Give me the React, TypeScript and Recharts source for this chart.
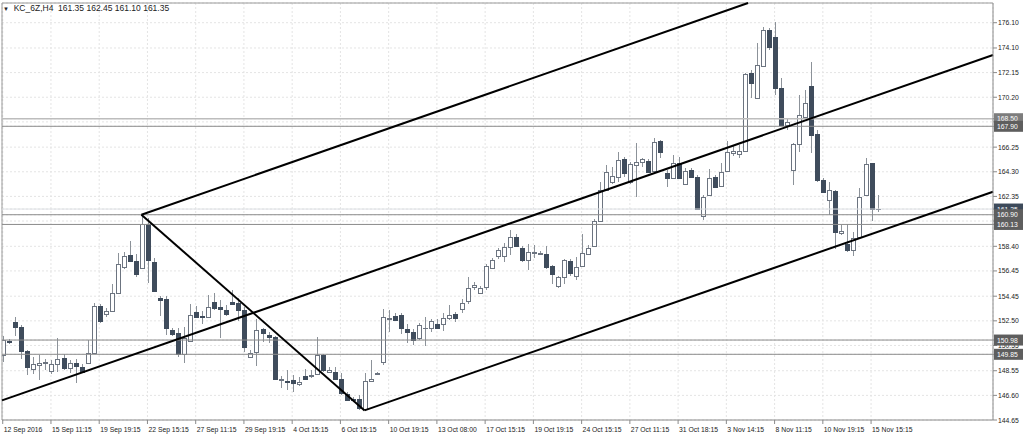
import React from 'react';
import { ComposedChart, Bar, XAxis, YAxis, CartesianGrid, ReferenceLine } from 'recharts';

// ---- OHLC values (KC_6Z, H4) ----
const opens = [
  149.77, 150.88, 152.38, 151.99, 150.09, 148.66, 148.98, 149.17, 148.50, 149.06,
  149.53, 148.74, 149.13, 148.82, 149.13, 149.93, 153.65, 153.02, 153.25, 154.68,
  156.74, 157.69, 157.22, 156.66, 160.15, 157.14, 154.28, 154.21, 151.75, 151.51,
  149.85, 150.88, 153.18, 152.86, 152.78, 153.97, 153.61, 153.33, 153.97, 153.89,
  153.33, 149.61, 150.01, 151.83, 151.35, 151.19, 147.83, 147.71, 147.79, 147.47,
  148.10, 148.10, 148.26, 149.77, 148.46, 148.42, 147.91, 146.72, 146.32, 146.32,
  145.49, 147.71, 148.26, 149.21, 152.66, 152.90, 152.94, 151.87, 151.59, 151.15,
  151.93, 151.96, 152.28, 152.28, 152.76, 153.02, 153.47, 154.05, 155.16, 154.68,
  155.16, 156.72, 157.61, 157.61, 158.37, 159.14, 158.25, 157.35, 157.85, 157.82,
  157.77, 156.86, 155.28, 155.95, 157.27, 156.07, 156.82, 157.82, 158.41, 160.44,
  162.84, 163.50, 163.90, 165.28, 163.50, 164.82, 165.09, 165.14, 164.35, 166.73,
  164.21, 163.82, 165.01, 163.37, 164.43, 163.90, 160.78, 162.45, 163.90, 163.18,
  164.35, 165.81, 165.67, 165.93, 172.09, 170.16, 172.69, 175.52, 174.99, 170.90,
  167.99, 164.43, 166.46, 168.65, 171.11, 167.26, 163.64, 162.05, 162.76, 159.49,
  158.62, 158.09, 159.14, 162.50, 164.96, 161.35,
];
const highs = [
  151.27, 151.04, 152.78, 152.15, 150.16, 149.61, 149.77, 149.45, 149.37, 151.12,
  149.85, 149.37, 149.45, 149.06, 150.96, 153.89, 153.81, 153.49, 155.39, 157.85,
  157.93, 158.80, 157.77, 160.90, 160.62, 157.45, 154.44, 154.44, 151.91, 151.91,
  151.99, 153.81, 153.65, 153.25, 154.52, 154.68, 154.13, 153.73, 154.92, 154.28,
  153.57, 150.16, 152.62, 151.91, 151.59, 151.27, 148.10, 148.58, 148.18, 148.03,
  148.66, 148.58, 151.19, 149.85, 148.82, 148.82, 148.34, 146.84, 146.48, 146.60,
  148.34, 149.41, 148.46, 153.45, 153.33, 153.14, 153.10, 152.26, 151.87, 152.30,
  152.80, 152.62, 152.67, 153.12, 153.73, 153.20, 154.26, 155.97, 155.58, 155.24,
  157.03, 157.51, 158.27, 158.67, 159.67, 159.36, 158.41, 158.62, 158.48, 158.03,
  158.41, 156.90, 156.03, 157.38, 157.38, 157.56, 159.41, 158.48, 160.54, 163.50,
  164.82, 164.69, 165.88, 165.48, 165.09, 166.54, 165.40, 165.35, 166.99, 166.80,
  164.43, 165.62, 165.48, 164.56, 164.56, 164.03, 162.45, 164.51, 164.03, 164.96,
  166.73, 166.35, 166.41, 172.09, 172.35, 174.47, 175.78, 175.66, 176.13, 171.74,
  168.52, 166.54, 170.37, 170.77, 173.01, 167.60, 163.77, 163.50, 162.84, 160.12,
  160.20, 159.54, 162.98, 165.40, 164.96, 162.45,
];
const lows = [
  149.21, 150.64, 151.27, 149.45, 148.18, 148.26, 147.79, 148.58, 148.26, 148.42,
  148.58, 148.34, 147.55, 148.34, 149.06, 149.85, 152.30, 152.78, 153.18, 154.60,
  156.58, 157.14, 155.95, 156.58, 155.47, 154.76, 152.86, 151.35, 151.27, 149.61,
  149.13, 150.80, 152.70, 152.22, 152.70, 153.33, 151.12, 152.86, 153.73, 152.46,
  150.01, 149.53, 148.90, 150.80, 150.72, 147.79, 147.15, 146.99, 146.84, 147.31,
  147.83, 147.95, 148.18, 148.42, 148.34, 147.79, 146.60, 146.12, 146.04, 145.41,
  145.41, 147.63, 148.18, 148.98, 151.63, 152.46, 151.43, 150.76, 150.56, 150.96,
  150.48, 151.61, 151.88, 151.67, 152.60, 152.41, 153.12, 153.86, 154.97, 154.66,
  154.97, 156.64, 157.43, 157.16, 157.69, 158.33, 157.14, 156.56, 157.45, 157.75,
  156.64, 155.45, 155.13, 155.45, 156.03, 155.71, 156.77, 157.69, 158.35, 160.39,
  162.79, 163.37, 163.50, 163.90, 163.37, 162.31, 164.69, 164.17, 164.29, 165.40,
  163.10, 163.77, 163.77, 163.24, 163.77, 161.31, 160.47, 162.39, 163.03, 163.10,
  164.29, 165.56, 165.40, 165.88, 170.11, 170.11, 172.61, 173.94, 170.37, 167.91,
  167.60, 163.29, 165.88, 168.52, 165.75, 163.50, 162.58, 160.86, 158.22, 159.28,
  157.95, 157.64, 159.06, 162.45, 160.39, 161.10,
];
const closes = [
  150.96, 150.80, 151.99, 150.09, 148.82, 149.06, 149.13, 149.21, 149.06, 149.45,
  148.74, 149.13, 148.90, 148.42, 149.93, 153.65, 152.46, 153.25, 154.68, 156.98,
  157.61, 157.22, 156.19, 160.15, 157.30, 154.84, 154.13, 151.91, 151.43, 149.85,
  151.12, 152.94, 152.78, 152.78, 153.61, 153.49, 153.41, 153.02, 153.81, 153.33,
  150.40, 149.93, 151.75, 151.51, 151.19, 147.87, 147.91, 147.67, 147.55, 147.65,
  147.89, 148.22, 149.77, 148.58, 148.62, 147.87, 146.76, 146.20, 146.20, 145.57,
  147.71, 147.91, 148.34, 152.78, 152.70, 152.60, 151.95, 151.59, 151.00, 152.15,
  151.96, 152.46, 151.96, 152.72, 153.00, 152.72, 153.93, 155.13, 155.32, 155.13,
  156.82, 157.30, 158.14, 158.37, 159.14, 158.41, 157.35, 157.91, 157.95, 157.87,
  156.78, 156.19, 155.95, 157.32, 156.29, 156.74, 157.87, 158.30, 160.44, 162.88,
  164.29, 163.95, 165.22, 164.17, 164.88, 165.09, 165.28, 164.29, 166.67, 165.83,
  163.77, 164.96, 163.82, 164.37, 163.90, 161.39, 162.31, 163.82, 163.10, 164.25,
  165.88, 165.93, 165.93, 172.01, 171.30, 172.75, 175.52, 174.20, 170.90, 167.99,
  168.21, 166.46, 168.79, 169.71, 167.20, 163.64, 162.66, 162.84, 159.54, 159.59,
  158.09, 159.06, 162.31, 164.88, 161.35, 161.35,
];

// time labels, one every 8 bars
const dateLabels = [
  '12 Sep 2016', '15 Sep 11:15', '19 Sep 19:15', '22 Sep 15:15', '27 Sep 11:15',
  '29 Sep 19:15', '4 Oct 15:15', '6 Oct 15:15', '10 Oct 19:15', '13 Oct 08:00',
  '17 Oct 15:15', '19 Oct 19:15', '24 Oct 15:15', '27 Oct 11:15', '31 Oct 18:15',
  '3 Nov 14:15', '8 Nov 11:15', '10 Nov 19:15', '15 Nov 15:15',
];
const labelStep = 8;

const priceTicks = [
  176.10, 174.10, 172.15, 170.20, 168.25, 166.25, 164.30, 162.35, 160.40,
  158.40, 156.45, 154.45, 152.50, 150.55, 148.55, 146.60, 144.65,
];
const hiddenTickLabels = [168.25, 160.40];
const levelPrices = [168.50, 167.90, 160.90, 160.13, 150.98, 149.85];
const lightLevels = [168.50];
const bidPrice = 161.35;

// trend lines (bar index, price)
const channelUpper = [{ x: 23, y: 160.90 }, { x: 123.6, y: 177.66 }];
const channelMiddle = [{ x: -0.12, y: 146.20 }, { x: 164.22, y: 173.54 }];
const channelLower = [{ x: 60, y: 145.41 }, { x: 164.22, y: 162.72 }];
const pitchHandle = [{ x: 23, y: 160.90 }, { x: 60, y: 145.41 }];

const xDomain: [number, number] = [-0.12, 164.22];
const yDomain: [number, number] = [144.65, 177.66];

const candles = opens.map((o, i) => ({ i, open: o, high: highs[i], low: lows[i], close: closes[i] }));

const FONT = '"Liberation Sans", Arial, sans-serif';
const BEAR = '#3f4c5c';
const BULL_STROKE = '#6c7480';
const WICK = '#8c9299';

const Candle = (props: any) => {
  const { x, y, width, height, payload } = props;
  if (x == null || y == null) return null;
  const { open, close, high, low } = payload;
  const yHigh = height >= 0 ? y : y + height;
  const h = Math.abs(height);
  const ratio = h / (high - low);
  const py = (p: number) => yHigh + (high - p) * ratio;
  const c = Math.round(x + width / 2);
  const left = c - 2;
  const top = Math.round(py(Math.max(open, close)));
  const bot = Math.round(py(Math.min(open, close)));
  const bull = close > open;
  const doji = bot - top < 1;
  return (
    <g>
      <line x1={c + 0.5} x2={c + 0.5} y1={Math.round(py(high))} y2={Math.round(py(low))} stroke={WICK} strokeWidth={1} />
      {doji ? (
        <line x1={left} x2={left + 5} y1={top + 0.5} y2={top + 0.5} stroke={bull ? BULL_STROKE : BEAR} strokeWidth={1} />
      ) : bull ? (
        <rect x={left + 0.5} y={top + 0.5} width={4} height={bot - top} fill="#ffffff" stroke={BULL_STROKE} strokeWidth={1} />
      ) : (
        <rect x={left} y={top} width={5} height={bot - top + 1} fill={BEAR} />
      )}
    </g>
  );
};

const YTick = (props: any) => {
  const { x, y, payload } = props;
  const v: number = payload.value;
  const isLevel = levelPrices.includes(v) || v === bidPrice;
  if (!isLevel && hiddenTickLabels.includes(v)) return null;
  if (isLevel) {
    const fill = v === bidPrice ? '#3d4a5a' : lightLevels.includes(v) ? '#7d7d7d' : '#5e5e5e';
    return (
      <g>
        <rect x={x - 4} y={y - 5.5} width={29} height={11} fill={fill} />
        <text x={x - 1} y={y + 2.5} fontSize={6.8} fontFamily={FONT} fill="#ffffff">{v.toFixed(2)}</text>
      </g>
    );
  }
  return (
    <text x={x} y={y + 2.5} fontSize={6.8} fontFamily={FONT} fill="#222">{v.toFixed(2)}</text>
  );
};

const XTick = (props: any) => {
  const { x, y, payload } = props;
  const label = dateLabels[Math.round(payload.value / labelStep)];
  return (
    <text x={x + 1} y={y + 7} fontSize={6.8} fontFamily={FONT} fill="#222" textAnchor="start">{label}</text>
  );
};

export default function App() {
  const xTicks = dateLabels.map((_, k) => k * labelStep);
  const yTicks = [...priceTicks, bidPrice, ...levelPrices];
  return (
    <div style={{ position: 'absolute', left: 0, top: 0, width: 1024, height: 438, background: '#fff' }}>
      <ComposedChart
        width={1024}
        height={438}
        data={candles}
        margin={{ top: 3, right: 0, bottom: 0, left: 2 }}
      >
        <CartesianGrid stroke="#e4e4e4" strokeDasharray="2 2" />
        <XAxis
          dataKey="i"
          type="number"
          domain={xDomain}
          allowDataOverflow
          ticks={xTicks}
          interval={0}
          height={18}
          tickSize={4}
          tickMargin={1}
          tick={<XTick />}
          axisLine={{ stroke: '#8a8a8a' }}
          tickLine={{ stroke: '#8a8a8a' }}
        />
        <YAxis
          orientation="right"
          type="number"
          domain={yDomain}
          allowDataOverflow
          ticks={yTicks}
          interval={0}
          width={31}
          tickSize={4}
          tickMargin={1}
          tick={<YTick />}
          axisLine={{ stroke: '#8a8a8a' }}
          tickLine={{ stroke: '#8a8a8a' }}
        />
        <ReferenceLine x={xDomain[0]} stroke="#9a9a9a" ifOverflow="visible" />
        <ReferenceLine y={yDomain[1]} stroke="#9a9a9a" ifOverflow="visible" />
        <ReferenceLine y={bidPrice} stroke="#dde0e4" strokeWidth={1} />
        {levelPrices.map((v) => (
          <ReferenceLine
            key={v}
            y={v}
            stroke={lightLevels.includes(v) ? '#bdbdbd' : '#8c8c8c'}
            strokeWidth={lightLevels.includes(v) ? 1.5 : 1}
          />
        ))}
        <Bar
          dataKey={(d: any) => [d.low, d.high]}
          barSize={5}
          shape={(p: any) => <Candle {...p} />}
          isAnimationActive={false}
        />
        {[channelUpper, channelMiddle, channelLower, pitchHandle].map((seg, k) => (
          <ReferenceLine key={k} segment={seg} stroke="#000" strokeWidth={2} ifOverflow="visible" />
        ))}
      </ComposedChart>
      <div
        style={{
          position: 'absolute', left: 3, top: 3, fontFamily: FONT, fontSize: 8.5, color: '#222',
          whiteSpace: 'pre', lineHeight: '10px',
        }}
      >
        <span style={{ fontSize: 6 }}>{'\u25BC'}</span>
        {'  KC_6Z,H4  161.35 162.45 161.10 161.35'}
      </div>
    </div>
  );
}
